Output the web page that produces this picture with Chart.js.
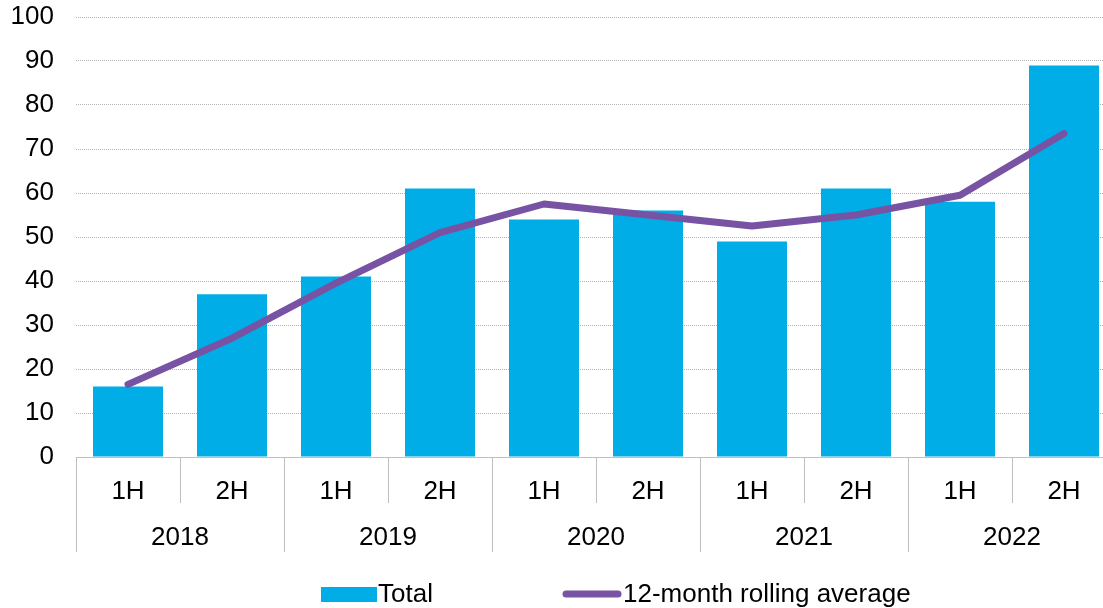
<!DOCTYPE html>
<html>
<head>
<meta charset="utf-8">
<script src="https://cdn.jsdelivr.net/npm/chart.js@4"></script>
<style>
  body { margin: 0; background: #fff; overflow: hidden; }
  #wrap { width: 1120px; height: 608px; }
</style>
</head>
<body>
<div id="wrap"><canvas id="myChart" width="1120" height="608"></canvas></div>
<script>
// data
var halves = ["1H", "2H", "1H", "2H", "1H", "2H", "1H", "2H", "1H", "2H"];
var years = ["2018", "2019", "2020", "2021", "2022"];
var totals = [16, 37, 41, 61, 54, 56, 49, 61, 58, 89];
var rolling = [16.5, 27, 39.5, 51, 57.5, 55, 52.5, 55, 59.5, 73.5];
var yTicks = [0, 10, 20, 30, 40, 50, 60, 70, 80, 90, 100];

var barColor = "#00ADE6";
var lineColor = "#7853A4";
var fontFamily = "'Liberation Sans', Arial, sans-serif";
var font = "26px " + fontFamily;

// two-level x axis: year row, separators, and the bottom legend
var groupAxis = {
    id: "groupAxis",
    afterDraw: function (chart) {
        var ctx = chart.ctx;
        var x = chart.scales.x;
        var area = chart.chartArea;
        var step = x.getPixelForValue(1) - x.getPixelForValue(0);
        ctx.save();
        ctx.strokeStyle = "#BFBFBF";
        ctx.lineWidth = 1;
        for (var i = 0; i <= halves.length; i++) {
            var px = Math.round(x.getPixelForValue(i) - step / 2) + 0.5;
            var bottom = (i % 2 === 0) ? area.bottom + 95 : area.bottom + 46;
            ctx.beginPath();
            ctx.moveTo(px, area.bottom);
            ctx.lineTo(px, bottom);
            ctx.stroke();
        }
        ctx.fillStyle = "#000";
        ctx.font = font;
        ctx.textAlign = "center";
        ctx.textBaseline = "middle";
        for (var j = 0; j < years.length; j++) {
            var cx = (x.getPixelForValue(j * 2) + x.getPixelForValue(j * 2 + 1)) / 2;
            ctx.fillText(years[j], cx, area.bottom + 81);
        }

        // legend
        ctx.textAlign = "left";
        ctx.fillStyle = barColor;
        ctx.fillRect(321, 587, 56, 15);
        ctx.fillStyle = "#000";
        ctx.fillText(chart.data.datasets[1].label, 378, 595);
        ctx.strokeStyle = lineColor;
        ctx.lineWidth = 7;
        ctx.lineCap = "round";
        ctx.beginPath();
        ctx.moveTo(566, 594);
        ctx.lineTo(618, 594);
        ctx.stroke();
        ctx.fillStyle = "#000";
        ctx.fillText(chart.data.datasets[0].label, 623, 595);
        ctx.restore();
    }
};

new Chart("myChart", {
    type: "bar",
    data: {
        labels: halves,
        datasets: [{
            type: "line",
            label: "12-month rolling average",
            data: rolling,
            borderColor: lineColor,
            borderWidth: 7,
            borderCapStyle: "round",
            borderJoinStyle: "round",
            pointRadius: 0,
            fill: false,
            tension: 0,
            order: 0
        }, {
            label: "Total",
            data: totals,
            backgroundColor: barColor,
            categoryPercentage: 1,
            barPercentage: 0.673,
            order: 1
        }]
    },
    options: {
        responsive: false,
        animation: false,
        layout: { padding: { top: 17, right: 4, left: 0, bottom: 0 } },
        plugins: {
            legend: { display: false },
            tooltip: { enabled: false }
        },
        scales: {
            x: {
                grid: { display: false, drawTicks: false },
                border: { display: true, color: "#BFBFBF", width: 1 },
                ticks: {
                    color: "#000",
                    font: { family: fontFamily, size: 26 },
                    padding: 19,
                    maxRotation: 0
                },
                afterFit: function (scale) {
                    scale.height = 151;
                    scale.paddingLeft = 0;
                    scale.paddingRight = 0;
                }
            },
            y: {
                min: 0,
                max: 100,
                afterBuildTicks: function (scale) {
                    scale.ticks = yTicks.map(function (v) { return { value: v }; });
                },
                grid: {
                    color: "#B4B4B4",
                    lineWidth: 1,
                    drawTicks: false
                },
                border: { display: false, dash: [1, 1] },
                ticks: {
                    color: "#000",
                    font: { family: fontFamily, size: 26 },
                    padding: 22
                },
                afterFit: function (scale) {
                    scale.width = 76;
                    scale.paddingTop = 0;
                    scale.paddingBottom = 0;
                }
            }
        }
    },
    plugins: [groupAxis]
});
</script>
</body>
</html>
